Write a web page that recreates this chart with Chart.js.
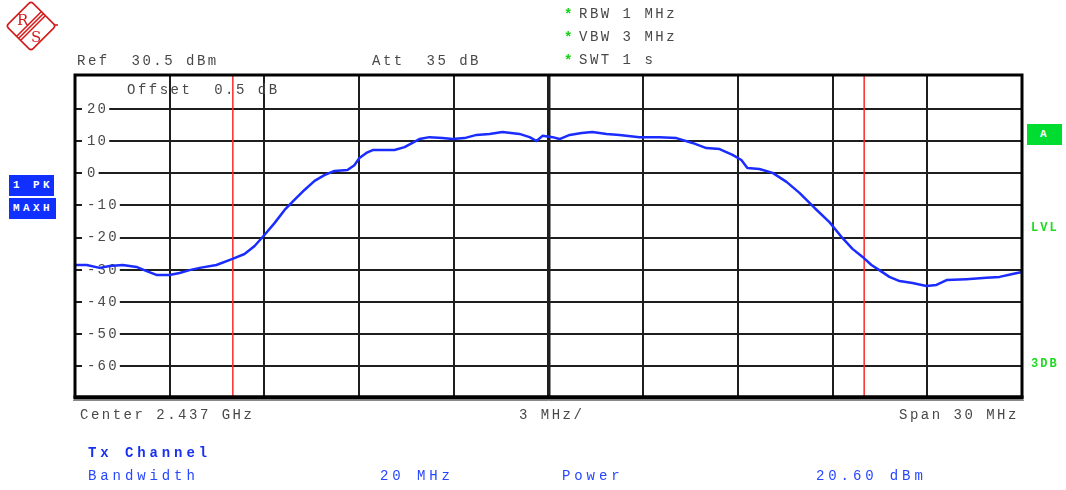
<!DOCTYPE html>
<html lang="en">
<head>
  <meta charset="UTF-8">
  <title>Tx Channel spectrum</title>
  <script src="https://cdn.jsdelivr.net/npm/chart.js@4"></script>
  <style>
    body { margin: 0; background: #fff; }
    #wrap { position: relative; width: 1066px; height: 490px; overflow: hidden;
            font-family: 'Liberation Mono', 'DejaVu Sans Mono', monospace; font-size: 14px; color: #484848; }
    #wrap canvas { position: absolute; left: 0; top: 0; }
    .t { position: absolute; white-space: pre; line-height: 14px; letter-spacing: 2.5px; }
    .star { color: #10d010; font-weight: bold; }
    .blue { color: #2646ff; letter-spacing: 3.9px; }
    .bold { font-weight: bold; color: #1a30f0; }
    .tag { position: absolute; color: #fff; font-weight: bold; font-size: 11px; line-height: 21px;
           letter-spacing: 3.4px; padding-left: 4px; box-sizing: border-box; }
    .green { color: #22d822; font-weight: bold; font-size: 12px; letter-spacing: 2px; }
  </style>
</head>
<body>
  <div id="wrap">
    <canvas id="specChart" width="1066" height="490"></canvas>

    <!-- R&S logo -->
    <svg style="position:absolute;left:0;top:0" width="64" height="56" viewBox="0 0 64 56">
      <g stroke="#d41a1a" fill="none" stroke-width="1.6">
        <rect x="13.5" y="8.5" width="35" height="35" rx="3" transform="rotate(45 31 26)"/>
        <line x1="41" y1="12" x2="17" y2="36"/>
        <line x1="43" y1="14" x2="19" y2="38"/>
        <line x1="45" y1="16" x2="21" y2="40"/>
        <line x1="54" y1="25" x2="58" y2="25"/>
      </g>
      <text x="17" y="25" fill="#d41a1a" font-family="DejaVu Serif" font-size="15">R</text>
      <text x="31" y="42" fill="#d41a1a" font-family="DejaVu Serif" font-size="15">S</text>
    </svg>

    <!-- header -->
    <div class="t star" style="left:564px;top:8px">*</div>
    <div class="t" style="left:579px;top:7px">RBW 1 MHz</div>
    <div class="t star" style="left:564px;top:31px">*</div>
    <div class="t" style="left:579px;top:30px">VBW 3 MHz</div>
    <div class="t star" style="left:564px;top:54px">*</div>
    <div class="t" style="left:579px;top:53px">SWT 1 s</div>
    <div class="t" style="left:77px;top:54px">Ref  30.5 dBm</div>
    <div class="t" style="left:372px;top:54px">Att  35 dB</div>
    <div class="t" style="left:127px;top:83px">Offset  0.5 dB</div>

    <!-- side labels -->
    <div class="tag" style="left:9px;top:175px;width:45px;height:21px;background:#1030ff">1 PK</div>
    <div class="tag" style="left:9px;top:198px;width:47px;height:21px;background:#1030ff">MAXH</div>
    <div class="tag" style="left:1027px;top:124px;width:35px;height:21px;background:#00dc30;padding-left:13px">A</div>
    <div class="t green" style="left:1031px;top:221px">LVL</div>
    <div class="t green" style="left:1031px;top:357px">3DB</div>

    <!-- footer -->
    <div class="t" style="left:80px;top:408px">Center 2.437 GHz</div>
    <div class="t" style="left:519px;top:408px">3 MHz/</div>
    <div class="t" style="left:899px;top:408px">Span 30 MHz</div>
    <div class="t blue bold" style="left:88px;top:446px">Tx Channel</div>
    <div class="t blue" style="left:88px;top:469px">Bandwidth</div>
    <div class="t blue" style="left:380px;top:469px">20 MHz</div>
    <div class="t blue" style="left:562px;top:469px">Power</div>
    <div class="t blue" style="left:816px;top:469px">20.60 dBm</div>
  </div>

  <script>
    // frequency offset from 2.437 GHz centre (MHz)
    const freqOffsets = [
      -15.0, -14.63, -14.22, -13.9, -13.49, -13.05, -12.73, -12.42, -12.01, -11.69,
      -11.37, -11.05, -10.52, -10.01, -9.63, -9.31, -9.0, -8.68, -8.36, -8.05,
      -7.73, -7.41, -7.1, -6.78, -6.37, -6.15, -5.99, -5.77, -5.57, -4.88,
      -4.56, -4.09, -3.77, -3.36, -3.04, -2.66, -2.28, -1.87, -1.46, -0.92,
      -0.6, -0.38, -0.19, 0.13, 0.35, 0.67, 1.05, 1.39, 1.84, 2.25,
      2.88, 3.52, 4.05, 4.56, 5.0, 5.42, 5.83, 6.11, 6.3, 6.68,
      7.1, 7.54, 7.95, 8.43, 8.9, 9.31, 9.63, 9.95, 10.23, 10.48,
      10.8, 11.12, 11.53, 11.97, 12.29, 12.61, 13.24, 13.87, 14.29, 14.7, 15.0
    ];
    // trace 1, max hold (dBm)
    const levels = [
      -28.5, -28.5, -29.4, -28.8, -28.5, -29.1, -30.4, -31.6, -31.6, -31.0,
      -30.1, -29.4, -28.5, -26.6, -25.1, -22.6, -19.2, -15.5, -11.4, -8.3,
      -5.2, -2.4, -0.6, 0.7, 1.0, 2.5, 4.7, 6.3, 7.2, 7.2,
      8.1, 10.6, 11.2, 10.9, 10.6, 10.9, 11.9, 12.2, 12.8, 12.2,
      11.2, 10.0, 11.6, 11.2, 10.6, 11.9, 12.5, 12.8, 12.2, 11.9,
      11.2, 11.2, 10.9, 9.4, 7.8, 7.5, 5.7, 4.1, 1.6, 1.3,
      0.1, -2.7, -6.1, -10.8, -15.2, -20.1, -23.5, -26.0, -28.5, -30.1,
      -32.2, -33.5, -34.1, -35.0, -34.7, -33.2, -32.9, -32.5, -32.2, -31.3, -30.7
    ];
    // channel bandwidth markers (MHz offset)
    const markerFreqs = [-10, 10];
    const yTicks = [20, 10, 0, -10, -20, -30, -40, -50, -60];
    const refLevel = 30.5;
    const bottomLevel = -69.5;
    const halfSpan = 15;
    const divStep = 3;

    const gridColor = '#1e1e1e';

    // frame around the plot area
    const framePlugin = {
      id: 'frame',
      afterDatasetsDraw(chart) {
        const { ctx, chartArea: a } = chart;
        ctx.save();
        ctx.strokeStyle = '#000';
        ctx.lineWidth = 3;
        ctx.strokeRect(a.left, a.top, a.right - a.left, a.bottom - a.top);
        ctx.lineWidth = 4;
        ctx.beginPath();
        ctx.moveTo(a.left - 1.5, a.bottom + 0.5);
        ctx.lineTo(a.right + 1.5, a.bottom + 0.5);
        ctx.stroke();
        ctx.strokeStyle = '#888';
        ctx.lineWidth = 1;
        ctx.beginPath();
        ctx.moveTo(a.left - 2, a.bottom + 3.5);
        ctx.lineTo(a.right + 2, a.bottom + 3.5);
        ctx.stroke();
        ctx.restore();
      }
    };

    // spaced-out tick text like the analyser screen
    const spacingPlugin = {
      id: 'spacing',
      beforeLayout(chart) { chart.ctx.letterSpacing = '2.2px'; },
      beforeDraw(chart) { chart.ctx.letterSpacing = '2.2px'; }
    };

    const datasets = [{
      data: freqOffsets.map((f, i) => ({ x: f, y: levels[i] })),
      borderColor: '#1a2cff',
      borderWidth: 2.5,
      borderJoinStyle: 'round',
      pointRadius: 0,
      tension: 0
    }];
    markerFreqs.forEach(f => {
      datasets.push({
        data: [{ x: f, y: bottomLevel }, { x: f, y: refLevel }],
        borderColor: '#ff2a2a',
        borderWidth: 1.5,
        pointRadius: 0
      });
    });

    new Chart(document.getElementById('specChart'), {
      type: 'line',
      data: { datasets },
      options: {
        responsive: false,
        animation: false,
        devicePixelRatio: 1,
        layout: { padding: { left: 75, top: 75, right: 44, bottom: 93 } },
        plugins: { legend: { display: false }, tooltip: { enabled: false } },
        scales: {
          x: {
            type: 'linear',
            min: -halfSpan,
            max: halfSpan,
            afterFit: s => { s.height = 0; },
            ticks: { display: false, stepSize: divStep },
            grid: {
              drawTicks: false,
              color: gridColor,
              lineWidth: c => (c.tick && c.tick.value === 0 ? 3.5 : 2)
            },
            border: { display: false }
          },
          y: {
            min: bottomLevel,
            max: refLevel,
            afterFit: s => { s.width = 0; },
            afterBuildTicks: s => { s.ticks = yTicks.map(v => ({ value: v })); },
            grid: { drawTicks: false, color: gridColor, lineWidth: 2 },
            border: { display: false },
            ticks: {
              mirror: true,
              padding: 12,
              color: '#484848',
              font: { family: 'Liberation Mono', size: 14 },
              showLabelBackdrop: true,
              backdropColor: '#fff',
              backdropPadding: { left: 5, right: 1, top: 1, bottom: 1 }
            }
          }
        }
      },
      plugins: [spacingPlugin, framePlugin]
    });
  </script>
</body>
</html>
